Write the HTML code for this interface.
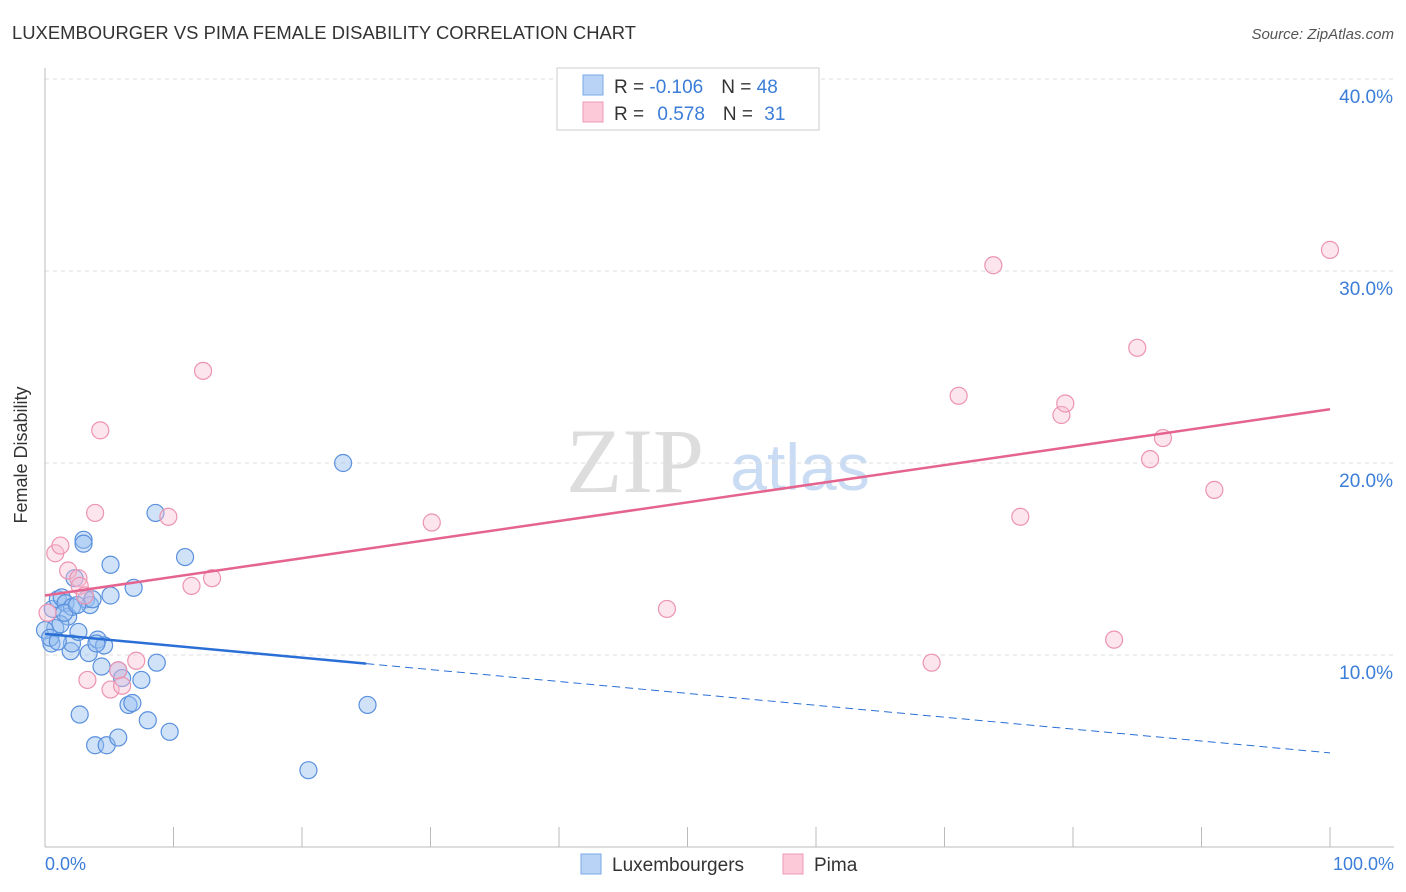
<!DOCTYPE html>
<html><head><meta charset="utf-8"><style>
body{margin:0;background:#fff;font-family:"Liberation Sans",sans-serif}
svg{display:block}
</style></head><body>
<svg width="1406" height="892" xmlns="http://www.w3.org/2000/svg">
<text x="12" y="39" font-size="18.4" fill="#333" textLength="624">LUXEMBOURGER VS PIMA FEMALE DISABILITY CORRELATION CHART</text>
<text x="1394" y="39" font-size="15" fill="#555" font-style="italic" text-anchor="end">Source: ZipAtlas.com</text>
<text x="635" y="492" font-size="92" fill="#ddd" font-family="Liberation Serif" text-anchor="middle">ZIP</text>
<text x="800" y="490" font-size="66" fill="#c9dcf3" text-anchor="middle">atlas</text>
<g id="grid"></g>
<line x1="45" y1="68" x2="45" y2="847" stroke="#bbb"/>
<line x1="45" y1="847" x2="1394" y2="847" stroke="#bbb"/>
<g id="xticks"></g>
<text x="27" y="455" font-size="18" fill="#333" transform="rotate(-90 27 455)" text-anchor="middle">Female Disability</text>
<text x="45" y="870" font-size="18" fill="#3b7dd8">0.0%</text>
<text x="1394" y="870" font-size="18" fill="#3b7dd8" text-anchor="end">100.0%</text>
<g id="pts"></g>
<g id="lines"></g>
<g>
<rect x="557" y="68" width="262" height="62" fill="#fff" stroke="#ccc"/>
<rect x="583" y="75" width="20" height="20" fill="#b8d3f5" stroke="#7aa8e8"/>
<rect x="583" y="102" width="20" height="20" fill="#fbc9d8" stroke="#ee9ab4"/>
<text x="614" y="93" font-size="19" fill="#333">R = <tspan fill="#3b7dd8">-0.106</tspan><tspan dx="18">N = </tspan><tspan fill="#3b7dd8">48</tspan></text>
<text x="614" y="120" font-size="19" fill="#333">R = <tspan fill="#3b7dd8" dx="8">0.578</tspan><tspan dx="18">N = </tspan><tspan fill="#3b7dd8" dx="6">31</tspan></text>
</g>
<g>
<rect x="581" y="854" width="20" height="20" fill="#b8d3f5" stroke="#7aa8e8"/>
<text x="612" y="871" font-size="19" fill="#333">Luxembourgers</text>
<rect x="783" y="854" width="20" height="20" fill="#fbc9d8" stroke="#ee9ab4"/>
<text x="814" y="871" font-size="19" fill="#333">Pima</text>
</g>
</svg>
<script>
const yTicks=[10,20,30,40];
const xTicks=[0,10,20,30,40,50,60,70,80,90,100];
const luxX=[0.5,0.8,0.6,1.0,1.3,1.6,1.8,2.0,2.1,2.3,2.1,2.6,2.7,3.0,3.2,3.4,3.5,3.7,3.9,4.1,4.4,4.6,4.8,5.1,5.1,5.7,5.7,6.5,6.8,6.9,7.5,8.0,8.6,8.7,9.7,10.9,1.2,0.0,0.4,1.5,2.5,3.0,4.0,6.0,20.5,23.2,25.1,1.0];
const luxY=[10.6,11.4,12.4,12.9,13.0,12.7,12.0,10.2,10.6,14.0,12.5,11.2,6.9,16.0,12.9,10.1,12.6,12.9,5.3,10.8,9.4,10.5,5.3,14.7,13.1,5.7,9.2,7.4,7.5,13.5,8.7,6.6,17.4,9.6,6.0,15.1,11.6,11.3,10.9,12.2,12.6,15.8,10.6,8.8,4.0,20.0,7.4,10.7];
const pimaX=[0.2,0.8,1.2,1.8,2.6,2.7,3.1,3.3,3.9,4.3,5.1,5.7,6.0,7.1,9.6,11.4,12.3,13.0,30.1,48.4,69.0,71.1,73.8,75.9,79.1,79.4,83.2,85.0,86.0,87.0,91.0,100.0];
const pimaY=[12.2,15.3,15.7,14.4,14.0,13.6,13.1,8.7,17.4,21.7,8.2,9.2,8.4,9.7,17.2,13.6,24.8,14.0,16.9,12.4,9.6,23.5,30.3,17.2,22.5,23.1,10.8,26.0,20.2,21.3,18.6,31.1];
const pimaTrend=[13.1,22.8];
const luxTrend=[11.1,4.9];
const NS='http://www.w3.org/2000/svg';
const sx=v=>45+v*12.85, sy=v=>847-v*19.2;
function mk(t,a,p){const e=document.createElementNS(NS,t);for(const k in a)e.setAttribute(k,a[k]);p.appendChild(e);return e;}
const grid=document.getElementById('grid');
yTicks.forEach(v=>{
 const l=mk('line',{x1:45,x2:1394,y1:sy(v),y2:sy(v),stroke:'#ddd','stroke-dasharray':'4,4'},grid);
 
 
 const t=mk('text',{x:1393,y:sy(v)+24,'font-size':19,fill:'#3b7dd8','text-anchor':'end'},grid);
 t.textContent=v.toFixed(1)+'%';
 
 
});
const xt=document.getElementById('xticks');
xTicks.forEach(v=>{
 const l=mk('line',{x1:sx(v),x2:sx(v),y1:827,y2:847,stroke:'#bbb'},xt);
 
 
});
const pts=document.getElementById('pts');
luxX.forEach((x,i)=>{
 const c=mk('circle',{cx:sx(x),cy:sy(luxY[i]),r:8.5,fill:'rgba(150,190,240,0.45)',stroke:'#5a90dd','stroke-width':1.2},pts);
 
 
});
pimaX.forEach((x,i)=>{
 const c=mk('circle',{cx:sx(x),cy:sy(pimaY[i]),r:8.5,fill:'rgba(250,190,210,0.4)',stroke:'#ec93b0','stroke-width':1.2},pts);
 
 
});
const lg=document.getElementById('lines');
const lp=mk('line',{x1:sx(0),y1:sy(pimaTrend[0]),x2:sx(100),y2:sy(pimaTrend[1]),stroke:'#e4648f','stroke-width':2.5},lg);


const lb=v=>luxTrend[0]+(luxTrend[1]-luxTrend[0])*v/100;
const l1=mk('line',{x1:sx(0),y1:sy(lb(0)),x2:sx(25),y2:sy(lb(25)),stroke:'#2a6fd6','stroke-width':2.5},lg);


const l2=mk('line',{x1:sx(25),y1:sy(lb(25)),x2:sx(100),y2:sy(lb(100)),stroke:'#2a6fd6','stroke-width':1,'stroke-dasharray':'8,5'},lg);


</script>
</body></html>
